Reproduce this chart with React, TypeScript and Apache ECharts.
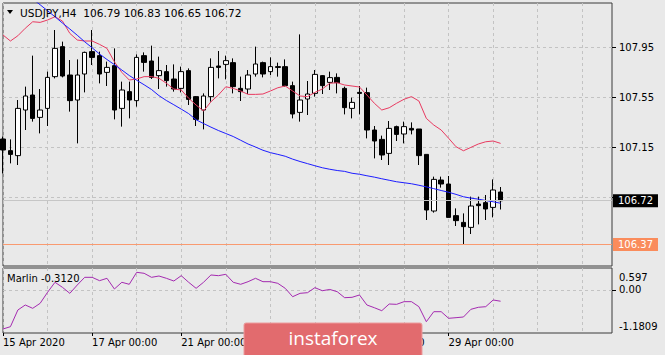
import React, { useEffect, useRef } from 'react';
import * as echarts from 'echarts';

const days = ["15 Apr", "16 Apr", "17 Apr", "20 Apr", "21 Apr", "22 Apr", "23 Apr", "24 Apr", "27 Apr", "28 Apr", "29 Apr", "30 Apr", "1 May", "4 May"];
const hours = ["00:00", "04:00", "08:00", "12:00", "16:00", "20:00"];
const categories = days.flatMap((d) => hours.map((h) => `${d} ${h}`)).slice(0, 83);

const opens = [107.214,107.121,107.081,107.446,107.566,107.387,107.459,107.713,107.953,107.726,
107.526,107.734,107.913,107.881,107.747,107.801,107.459,107.593,107.521,107.881,
107.838,107.721,107.753,107.694,107.619,107.761,107.553,107.446,107.553,107.798,
107.811,107.825,107.619,107.614,107.734,107.825,107.753,107.793,107.793,107.641,
107.427,107.534,107.579,107.721,107.667,107.707,107.619,107.459,107.587,107.585,
107.286,107.211,107.099,107.313,107.254,107.299,107.294,107.091,106.638,106.886,
106.854,106.601,106.547,106.507,106.694,106.705,106.667,106.79];
const closes = [107.126,107.091,107.459,107.558,107.379,107.446,107.707,107.939,107.718,107.521,
107.726,107.907,107.867,107.734,107.787,107.446,107.606,107.526,107.867,107.827,
107.707,107.761,107.681,107.614,107.753,107.531,107.371,107.558,107.787,107.787,
107.841,107.633,107.593,107.726,107.814,107.734,107.793,107.787,107.641,107.414,
107.526,107.574,107.731,107.641,107.705,107.665,107.465,107.507,107.579,107.286,
107.198,107.086,107.299,107.251,107.313,107.286,107.081,106.646,106.891,106.854,
106.587,106.561,106.513,106.678,106.681,106.654,106.806,106.72];
const lows = [106.939,107.019,107.006,107.286,107.353,107.259,107.318,107.699,107.707,107.433,
107.179,107.587,107.806,107.659,107.638,107.371,107.313,107.379,107.473,107.753,
107.694,107.614,107.633,107.593,107.587,107.486,107.318,107.291,107.513,107.699,
107.691,107.579,107.518,107.574,107.713,107.707,107.726,107.713,107.633,107.379,
107.353,107.406,107.553,107.574,107.606,107.579,107.411,107.379,107.411,107.219,
107.059,107.046,107.006,107.198,107.179,107.251,107.006,106.566,106.625,106.825,
106.587,106.518,106.37,106.454,106.531,106.566,106.587,106.65];
const highs = [107.233,107.211,107.526,107.633,107.881,107.614,107.753,108.086,107.993,107.846,
107.851,107.913,108.086,107.913,107.833,107.939,107.673,107.673,107.891,107.907,
107.961,107.873,107.806,107.811,107.793,107.779,107.558,107.579,107.859,107.918,
107.881,107.859,107.713,107.766,107.953,107.833,107.867,107.825,107.851,107.673,
108.051,107.678,107.766,107.726,107.753,107.739,107.633,107.545,107.638,107.625,
107.318,107.241,107.358,107.321,107.353,107.347,107.294,107.091,106.913,106.913,
106.918,106.659,106.619,106.753,106.753,106.766,106.891,106.83];

const redLine = [108.046,107.998,108.04,108.1,108.152,108.147,108.166,108.192,108.158,108.059,
108.006,107.998,107.998,107.971,107.939,107.832,107.747,107.686,107.694,107.713,
107.713,107.7,107.66,107.614,107.606,107.54,107.486,107.438,107.512,107.566,
107.632,107.619,107.598,107.571,107.571,107.574,107.598,107.624,107.638,107.598,
107.558,107.553,107.587,107.614,107.66,107.664,107.646,107.638,107.63,107.566,
107.5,107.446,107.464,107.5,107.532,107.553,107.518,107.379,107.326,107.286,
107.22,107.152,107.12,107.147,107.174,107.192,107.198,107.179];
const blueLine = [108.526,108.478,108.43,108.382,108.334,108.288,108.24,108.192,108.142,108.094,
108.044,107.992,107.944,107.894,107.85,107.809,107.766,107.722,107.684,107.648,
107.61,107.561,107.522,107.488,107.453,107.417,107.368,107.338,107.309,107.282,
107.258,107.234,107.204,107.174,107.15,107.124,107.105,107.091,107.076,107.053,
107.034,107.017,107.0,106.984,106.972,106.962,106.955,106.94,106.932,106.92,
106.909,106.896,106.884,106.872,106.864,106.856,106.844,106.831,106.817,106.802,
106.788,106.771,106.752,106.741,106.733,106.722,106.712,106.7];
const marlin = [-1.071,-1.008,-0.552,-0.415,-0.506,-0.369,-0.068,0.206,0.069,-0.096,
0.132,0.342,0.342,0.25,0.315,0.023,0.206,0.151,0.479,0.452,
0.342,0.378,0.315,0.241,0.387,0.206,0.041,0.206,0.406,0.387,
0.424,0.206,0.151,0.223,0.315,0.223,0.223,0.178,0.041,-0.188,
-0.096,-0.078,0.059,-0.024,0.01,-0.051,-0.215,-0.205,-0.141,-0.415,
-0.489,-0.571,-0.388,-0.397,-0.324,-0.324,-0.461,-0.872,-0.598,-0.598,
-0.779,-0.762,-0.743,-0.533,-0.478,-0.461,-0.278,-0.312];

const priceLabels = [107.15, 107.55, 107.95];
const priceGrid = [106.75, 107.15, 107.55, 107.95];
const marlinLabels = [0.597, 0, -1.1809];
const currentPrice = 106.72;
const supportLevel = 106.37;
const symbolName = "USDJPY,H4";
const indicatorName = "Marlin";
const brand = "instaforex";

const FONT = 'DejaVu Sans';

export default function App() {
  const ref = useRef<HTMLDivElement>(null);
  useEffect(() => {
    if (!ref.current) return;
    const chart = echarts.init(ref.current, null, { renderer: 'svg' });
    const n = opens.length;
    const last = n - 1;
    const candles = opens.map((o, i) => [o, closes[i], lows[i], highs[i]]);
    const title = `${symbolName}  ${opens[last].toFixed(2)} ${highs[last].toFixed(2)} ${lows[last].toFixed(2)} ${closes[last].toFixed(2)}`;
    const grid = { color: '#c3c3c3', type: [3, 3] as any, width: 1 };
    const showTime = (i: number) => i % 12 === 0 && i < n;
    const option: any = {
      animation: false,
      backgroundColor: '#e9e9e9',
      grid: [
        { left: 3, right: 53, top: 3, height: 263, show: true, borderColor: '#3a3a3a', borderWidth: 1 },
        { left: 3, right: 53, top: 268, height: 65, show: true, borderColor: '#3a3a3a', borderWidth: 1 },
      ],
      xAxis: [
        {
          type: 'category', gridIndex: 0, data: categories, boundaryGap: false,
          axisLine: { show: false, onZero: false }, axisTick: { show: false }, axisLabel: { show: false },
          splitLine: { show: true, interval: 5, lineStyle: grid },
        },
        {
          type: 'category', gridIndex: 1, data: categories, boundaryGap: false, position: 'bottom',
          axisLine: { show: false, onZero: false },
          axisTick: { show: true, interval: (i: number) => showTime(i), length: 3, lineStyle: { color: '#000' } },
          axisLabel: {
            show: true, interval: (i: number) => showTime(i), align: 'left', margin: 4,
            color: '#000', fontSize: 10, fontFamily: FONT,
            formatter: (v: string, i: number) => (i === 0 ? `${days[0]} 2020` : v),
          },
          splitLine: { show: true, interval: 5, lineStyle: grid },
        },
      ],
      yAxis: [
        {
          type: 'value', gridIndex: 0, position: 'right', min: 106.198, max: 108.302,
          axisLine: { show: false },
          axisTick: { show: true, length: 4, customValues: priceGrid, lineStyle: { color: '#000' } },
          axisLabel: {
            customValues: priceLabels, margin: 7, color: '#000', fontSize: 10, fontFamily: FONT,
            formatter: (v: number) => v.toFixed(2),
          },
          splitLine: { show: true, lineStyle: grid },
        },
        {
          type: 'value', gridIndex: 1, position: 'right', min: -1.1809, max: 0.597,
          axisLine: { show: false },
          axisTick: { show: true, length: 4, customValues: [0], lineStyle: { color: '#000' } },
          axisLabel: {
            customValues: marlinLabels, margin: 7, color: '#000', fontSize: 10, fontFamily: FONT,
            formatter: (v: number) => {
              if (v === 0) return '{m|0.00}';
              if (v > 0) return `{t|${v}}`;
              return `{b|${v}}`;
            },
            rich: {
              m: { fontSize: 10, fontFamily: FONT, color: '#000' },
              t: { fontSize: 10, fontFamily: FONT, color: '#000', padding: [18, 0, 0, 0] },
              b: { fontSize: 10, fontFamily: FONT, color: '#000', padding: [0, 0, 14, 0] },
            },
          },
          splitLine: { show: true, lineStyle: grid },
        },
      ],
      series: [
        {
          type: 'candlestick', xAxisIndex: 0, yAxisIndex: 0, data: candles, barWidth: 5,
          itemStyle: { color: '#ffffff', color0: '#000000', borderColor: '#000000', borderColor0: '#000000', borderWidth: 1 },
          markLine: {
            silent: true, symbol: ['none', 'none'], animation: false,
            label: {
              show: true, position: 'end', distance: 1, fontSize: 10, fontFamily: FONT,
              lineHeight: 13, padding: [0, 5, 0, 5],
              formatter: (p: any) => Number(p.value).toFixed(2),
            },
            data: [
              { yAxis: currentPrice, lineStyle: { color: '#c6c6c6', type: 'solid', width: 1 }, label: { backgroundColor: '#000', color: '#fff' } },
              { yAxis: supportLevel, lineStyle: { color: '#f99a70', type: 'solid', width: 1 }, label: { backgroundColor: '#fa8c5c', color: '#fff' } },
            ],
          },
        },
        { type: 'line', xAxisIndex: 0, yAxisIndex: 0, data: redLine, symbol: 'none', lineStyle: { color: '#e83a60', width: 1 } },
        { type: 'line', xAxisIndex: 0, yAxisIndex: 0, data: blueLine, symbol: 'none', lineStyle: { color: '#1c1cff', width: 1 } },
        { type: 'line', xAxisIndex: 1, yAxisIndex: 1, data: marlin, symbol: 'none', lineStyle: { color: '#a42ab0', width: 1 } },
      ],
      graphic: [
        { type: 'polygon', z: 100, shape: { points: [[7, 10], [13, 10], [10, 14]] }, style: { fill: '#000' } },
        { type: 'text', z: 100, x: 20, y: 12.5, style: { text: title, fill: '#000', fontSize: 10.6, fontFamily: FONT, verticalAlign: 'middle' } },
        { type: 'text', z: 100, x: 7, y: 278, style: { text: `${indicatorName} ${marlin[last].toFixed(4)}`, fill: '#000', fontSize: 10, fontFamily: FONT, verticalAlign: 'middle' } },
        { type: 'rect', z: 100, shape: { x: 244, y: 323, width: 178, height: 40, r: 2 }, style: { fill: '#e26b6e', stroke: '#ec9c9d', lineWidth: 1 } },
        { type: 'text', z: 101, x: 333, y: 338, style: { text: brand, fill: '#fff', fontSize: 19, fontFamily: 'Open Sans', align: 'center', verticalAlign: 'middle' } },
      ],
    };
    chart.setOption(option);
    return () => chart.dispose();
  }, []);
  return <div ref={ref} style={{ position: 'fixed', left: 0, top: 0, width: 665, height: 355 }} />;
}
